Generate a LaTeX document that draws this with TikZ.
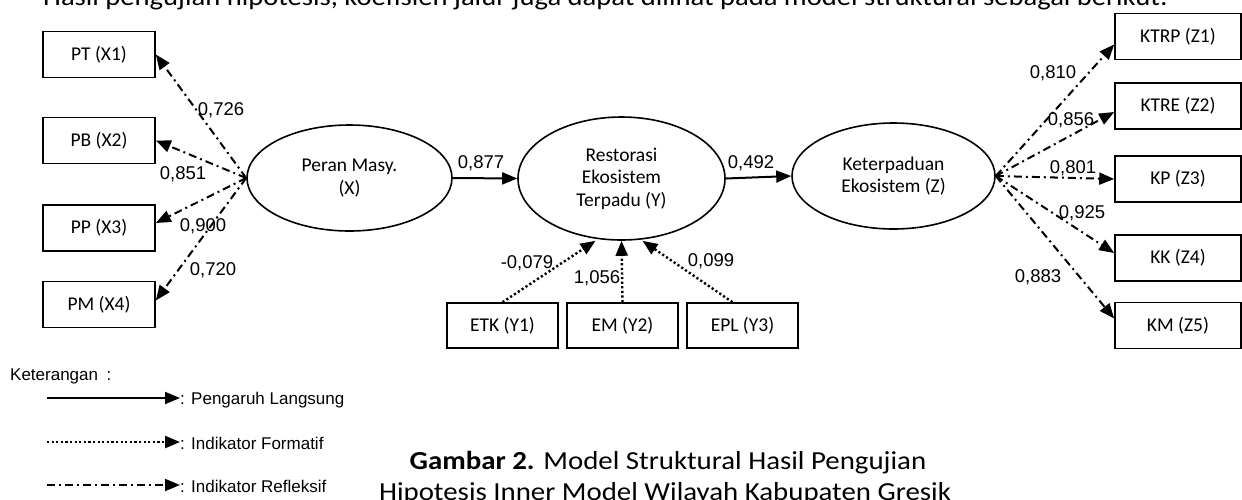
\documentclass[tikz,border=0pt]{standalone}
\usepackage{fontspec}
\setmainfont{Carlito}
\newfontfamily\arialfont{Liberation Sans}
\newfontfamily\introfont[FakeStretch=1.1]{Carlito}
\newfontfamily\capfont[FakeStretch=1.11]{Carlito}
\usetikzlibrary{arrows.meta}
\usetikzlibrary{shapes.geometric}

\tikzset{
  box/.style={draw, line width=1.6pt, minimum height=46pt, inner sep=0pt, font=\fontsize{19.5}{23}\selectfont},
  latent/.style={draw, ellipse, line width=1.6pt, inner sep=0pt, align=center, font=\fontsize{19.5}{22.5}\selectfont},
  coef/.style={font=\arialfont\fontsize{18.5}{20}\selectfont, inner sep=1pt},
  legtext/.style={font=\arialfont\fontsize{17}{20}\selectfont, inner sep=0pt},
  direct/.style={line width=2pt, -{Triangle[length=15pt,width=12pt]}},
  formatif/.style={line width=2.4pt, dash pattern=on 2.2pt off 2.4pt, -{Triangle[length=15pt,width=12pt]}},
  refleksif/.style={line width=2pt, dash pattern=on 8pt off 4pt on 2pt off 4pt, -{Triangle[length=15pt,width=12pt]}}
}

\begin{document}
\begin{tikzpicture}[x=1pt,y=-1pt]
\useasboundingbox (0,0) rectangle (1242,499);
\begin{scope}
\clip (0,0) rectangle (1242,499);
\node[anchor=base west, inner sep=0pt, font=\introfont\fontsize{26}{30}\selectfont] (intro) at (43,5) {Hasil pengujian hipotesis, koefisien jalur juga dapat dilihat pada model struktural sebagai berikut:};
\node[anchor=base, inner sep=0pt, font=\capfont\fontsize{26}{30}\selectfont] (cap2) at (665,500) {Hipotesis Inner Model Wilayah Kabupaten Gresik};
\end{scope}
\node[anchor=base, inner sep=0pt, font=\capfont\fontsize{26}{30}\selectfont] (cap1) at (668,469) {\textbf{Gambar 2.} Model Struktural Hasil Pengujian};

% konstruk
\node[latent, minimum width=205pt, minimum height=106pt] (x) at (349.5,178) {Peran Masy.\\(X)};
\node[latent, minimum width=207pt, minimum height=123pt] (y) at (621.5,178.5) {Restorasi\\Ekosistem\\Terpadu (Y)};
\node[latent, minimum width=203pt, minimum height=106pt] (z) at (893.5,176) {Keterpaduan\\Ekosistem (Z)};

% indikator
\foreach \nm/\lab/\yy in {pt/PT (X1)/54.5, pb/PB (X2)/140.5, pp/PP (X3)/228, pm/PM (X4)/304.5}
  \node[box, minimum width=112pt] (\nm) at (99,\yy) {\lab};
\foreach \nm/\lab/\yy in {ktrp/KTRP (Z1)/36.5, ktre/KTRE (Z2)/106, kp/KP (Z3)/179, kk/KK (Z4)/258, km/KM (Z5)/325.5}
  \node[box, minimum width=126pt] (\nm) at (1178,\yy) {\lab};
\foreach \nm/\lab/\xx in {etk/ETK (Y1)/502.5, em/EM (Y2)/622.5, epl/EPL (Y3)/742.5}
  \node[box, minimum width=111pt, minimum height=45pt] (\nm) at (\xx,325.5) {\lab};

% jalur
\draw[direct] (x.east) -- (y.west);
\draw[direct] (y.east) -- (z.west);
\draw[refleksif] (x.west) -- (pt.east);
\draw[refleksif] (x.west) -- (pb.east);
\draw[refleksif] (x.west) -- ([yshift=5pt]pp.east);
\draw[refleksif] (x.west) -- ([yshift=4pt]pm.east);
\draw[refleksif] (z.east) -- ([yshift=-8pt]ktrp.west);
\draw[refleksif] (z.east) -- ([yshift=-6pt]ktre.west);
\draw[refleksif] (z.east) -- (kp.west);
\draw[refleksif] (z.east) -- ([yshift=5pt]kk.west);
\draw[refleksif] (z.east) -- ([yshift=7pt]km.west);
\draw[formatif] (etk.north) -- ([xshift=-26pt]y.south);
\draw[formatif] (em.north) -- (y.south);
\draw[formatif] ([xshift=-10pt]epl.north) -- ([xshift=21pt]y.south);

% koefisien
\foreach \nm/\val/\xx/\yy in {c1/{0,877}/481/163, c2/{0,492}/751/163,
    c3/{0,726}/221/110, c4/{0,851}/183/174, c5/{0,900}/203/226, c6/{0,720}/213/270,
    c7/{0,810}/1053/73, c8/{0,856}/1071/120, c9/{0,801}/1073/168, c10/{0,925}/1082/213, c11/{0,883}/1038/277,
    c12/{-0,079}/527/263, c13/{1,056}/597/278, c14/{0,099}/711/261}
  \node[coef] (\nm) at (\xx,\yy) {\val};

% keterangan
\node[legtext, anchor=west] (ket) at (10,376) {Keterangan\hspace{0.5em}:};
\node[legtext, anchor=west] (leg1) at (180,400) {: Pengaruh Langsung};
\node[legtext, anchor=west] (leg2) at (180,443) {: Indikator Formatif};
\node[legtext, anchor=west] (leg3) at (180,486) {: Indikator Refleksif};
\coordinate (s1) at (47,398);
\coordinate (s2) at (47,442);
\coordinate (s3) at (47,485);
\draw[direct] (s1) -- (s1 -| leg1.west);
\draw[formatif] (s2) -- (s2 -| leg2.west);
\draw[refleksif] (s3) -- (s3 -| leg3.west);
\end{tikzpicture}
\end{document}
